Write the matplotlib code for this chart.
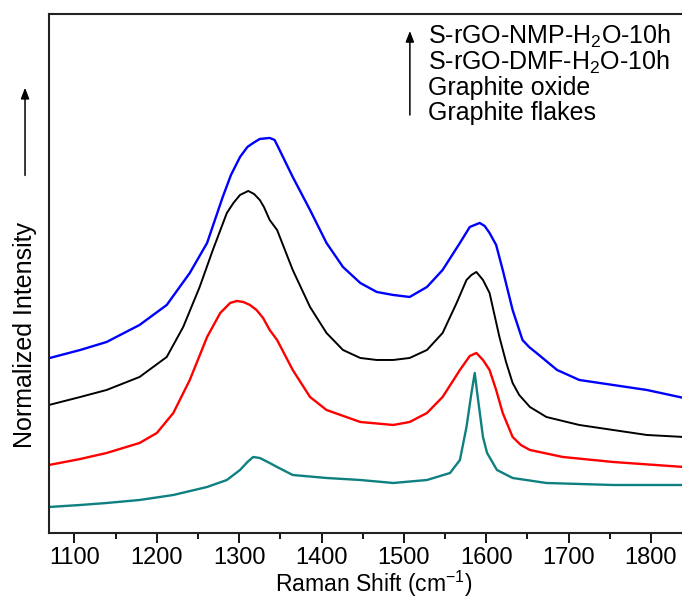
#!/usr/bin/env python3
"""
Raman spectra (D and G band region) of graphite flakes, graphite oxide
and the two solvothermally reduced S-rGO samples, stacked with offsets.
"""

import matplotlib
matplotlib.use("Agg")
import matplotlib.pyplot as plt

plt.rcParams["font.family"] = ["Liberation Sans", "DejaVu Sans"]
plt.rcParams["mathtext.fontset"] = "custom"
plt.rcParams["mathtext.rm"] = "Liberation Sans"
plt.rcParams["mathtext.it"] = "Liberation Sans"
plt.rcParams["mathtext.default"] = "regular"

# Spectra (Raman shift in cm-1, intensity in a.u. incl. offset).
nmp_x = [1070, 1107, 1139, 1179, 1212, 1240, 1261, 1280, 1290, 1301, 1310, 1317,
         1325, 1337, 1343, 1349, 1365, 1386, 1406, 1426, 1447, 1467, 1487, 1507,
         1528, 1547, 1568, 1580, 1592, 1598, 1604, 1612, 1620, 1626, 1632, 1638,
         1644, 1652, 1661, 1686, 1713, 1754, 1795, 1840]
nmp_y = [175, 183, 191, 208, 228, 260, 290, 336, 358, 376, 386, 390,
         394, 395, 393, 383, 356, 323, 290, 266, 250, 241, 238, 236,
         246, 263, 290, 306, 310, 307, 300, 288, 263, 243, 223, 208,
         193, 186, 180, 163, 153, 148, 143, 135]

dmf_x = [1069, 1107, 1139, 1179, 1212, 1232, 1252, 1268, 1285, 1293, 1301, 1311,
         1318, 1325, 1330, 1337, 1346, 1365, 1386, 1406, 1426, 1447, 1467, 1487,
         1507, 1528, 1547, 1564, 1576, 1582, 1588, 1596, 1604, 1610, 1616, 1624,
         1632, 1640, 1653, 1673, 1713, 1754, 1795, 1840]
dmf_y = [128, 136, 143, 156, 176, 206, 246, 283, 320, 330, 338, 342,
         339, 333, 326, 313, 303, 263, 226, 200, 183, 175, 173, 173,
         175, 183, 200, 230, 253, 258, 261, 253, 240, 218, 196, 171,
         150, 138, 126, 116, 108, 103, 98, 96]

go_x = [1069, 1107, 1139, 1179, 1200, 1220, 1240, 1261, 1277, 1289, 1297, 1305,
        1313, 1321, 1329, 1337, 1346, 1365, 1386, 1406, 1447, 1487, 1507, 1528,
        1547, 1568, 1580, 1588, 1596, 1604, 1612, 1620, 1626, 1632, 1642, 1653,
        1693, 1754, 1840]
go_y = [68, 74, 80, 90, 100, 120, 153, 196, 220, 230, 232, 231,
        228, 223, 215, 203, 193, 163, 136, 123, 111, 108, 111, 120,
        136, 163, 177, 180, 173, 163, 143, 120, 108, 96, 88, 83,
        76, 71, 66]

gf_x = [1069, 1107, 1139, 1179, 1220, 1261, 1285, 1301, 1310, 1317, 1325, 1337,
        1346, 1365, 1406, 1447, 1487, 1528, 1556, 1568, 1576, 1582, 1586, 1589,
        1596, 1601, 1613, 1632, 1673, 1754, 1840]
gf_y = [26, 28, 30, 33, 38, 46, 53, 63, 71, 76, 75, 70,
        66, 58, 55, 53, 50, 53, 60, 73, 106, 140, 160, 140,
        96, 80, 63, 55, 50, 48, 48]

labels = ["S-rGO-NMP-H$_2$O-10h", "S-rGO-DMF-H$_2$O-10h",
          "Graphite oxide", "Graphite flakes"]


def main():
    fig = plt.figure(figsize=(6.82, 5.98), dpi=100)
    ax = fig.add_axes([0.0718, 0.1087, 0.931, 0.868])

    ax.plot(gf_x, gf_y, color="#0f8080", lw=1.7)
    ax.plot(go_x, go_y, color="#ff0000", lw=1.7)
    ax.plot(dmf_x, dmf_y, color="black", lw=1.4)
    ax.plot(nmp_x, nmp_y, color="#0000ff", lw=1.7)

    ax.set_xlim(1069, 1840)
    ax.set_ylim(0, 519)
    ax.set_xticks(range(1100, 1801, 100))
    ax.set_xticks(range(1150, 1801, 100), minor=True)
    ax.set_yticks([])
    ax.tick_params(axis="x", which="major", length=7, width=1.3, labelsize=17, pad=3)
    ax.tick_params(axis="x", which="minor", length=4.5, width=1.3)
    for sp in ax.spines.values():
        sp.set_linewidth(1.5)
        sp.set_color("#222222")

    ax.set_xlabel("Raman Shift (cm$^{-1}$)", fontsize=16.5, labelpad=0)
    ax.xaxis.label.set_x(0.511)
    ax.set_ylabel("Normalized Intensity", fontsize=18, va="center")
    ax.yaxis.set_label_coords(-0.037, 0.381)

    # Arrow beside the y label
    ax.annotate("", xy=(0.0367, 0.858), xytext=(0.0367, 0.702),
                xycoords="figure fraction", textcoords="figure fraction",
                arrowprops=dict(arrowstyle="-|>,head_length=0.65,head_width=0.25",
                                color="black", lw=1.1))

    # Stacking order legend with arrow
    ax.annotate("", xy=(0.601, 0.953), xytext=(0.601, 0.803),
                xycoords="figure fraction", textcoords="figure fraction",
                arrowprops=dict(arrowstyle="-|>,head_length=0.65,head_width=0.25",
                                color="black", lw=1.1))
    baselines = [44, 69.5, 95, 120]
    for lab, by in zip(labels, baselines):
        fig.text(428 / 682, 1 - by / 598, lab, fontsize=18, va="baseline", ha="left")

    fig.savefig("out.png", dpi=100)


if __name__ == "__main__":
    main()
